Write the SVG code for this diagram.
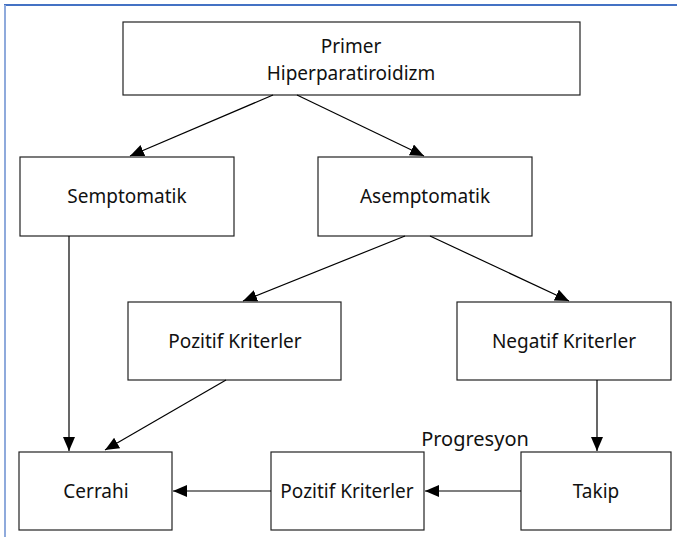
<svg xmlns="http://www.w3.org/2000/svg" width="677" height="538" viewBox="0 0 677 538">
<style>
.box{fill:#fff;stroke:#222;stroke-width:1.2}
.lbl{font-family:"Noto Sans","Open Sans",sans-serif;font-size:19px;fill:#111;text-anchor:middle}
.conn line{stroke:#000;stroke-width:1.2;marker-end:url(#ah)}
</style>
<defs>
<marker id="ah" viewBox="0 0 14 12" refX="14" refY="6" markerWidth="14" markerHeight="12" markerUnits="userSpaceOnUse" orient="auto">
<path d="M0,0 L14,6 L0,12 Z" fill="#000"/>
</marker>
</defs>
<rect width="677" height="538" fill="#fff"/>
<line x1="4" y1="5" x2="677" y2="5" stroke="#4472c4" stroke-width="2"/>
<line x1="5" y1="5" x2="5" y2="537" stroke="#8faadc" stroke-width="2"/>
<g id="primer"><rect class="box" x="123" y="22" width="457" height="73"/><text class="lbl" x="351" y="53">Primer</text><text class="lbl" x="351" y="80">Hiperparatiroidizm</text></g>
<g id="semptomatik"><rect class="box" x="20" y="157" width="214" height="79"/><text class="lbl" x="127" y="203">Semptomatik</text></g>
<g id="asemptomatik"><rect class="box" x="318" y="157" width="214" height="79"/><text class="lbl" x="425" y="203">Asemptomatik</text></g>
<g id="pozitif1"><rect class="box" x="128" y="302" width="213" height="78"/><text class="lbl" x="235" y="348">Pozitif Kriterler</text></g>
<g id="negatif"><rect class="box" x="457" y="302" width="214" height="78"/><text class="lbl" x="564" y="348">Negatif Kriterler</text></g>
<g id="cerrahi"><rect class="box" x="19" y="452" width="153" height="78"/><text class="lbl" x="96" y="498">Cerrahi</text></g>
<g id="pozitif2"><rect class="box" x="271" y="452" width="153" height="78"/><text class="lbl" x="347" y="498">Pozitif Kriterler</text></g>
<g id="takip"><rect class="box" x="521" y="452" width="150" height="78"/><text class="lbl" x="596" y="498">Takip</text></g>
<g id="connectors" class="conn">
<line x1="273" y1="95" x2="130" y2="156"/>
<line x1="297" y1="95" x2="424" y2="156"/>
<line x1="69" y1="236" x2="69" y2="451"/>
<line x1="405" y1="236" x2="243" y2="301"/>
<line x1="430" y1="236" x2="569" y2="301"/>
<line x1="226" y1="380" x2="105" y2="450"/>
<line x1="597" y1="380" x2="597" y2="451"/>
<line x1="521" y1="491" x2="425" y2="491"/>
<line x1="271" y1="491" x2="173" y2="491"/>
<text class="lbl" x="475" y="446" style="font-size:20px">Progresyon</text>
</g>
</svg>
